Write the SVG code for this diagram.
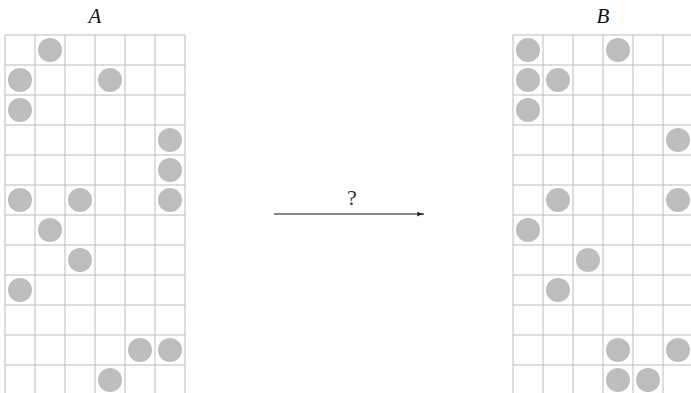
<svg xmlns="http://www.w3.org/2000/svg" width="691" height="393" viewBox="0 0 691 393">
<defs>
<style>
.g{stroke:#bcbcbc;stroke-width:1;fill:none}
.c{fill:#bdbdbd}
.lbl{font-family:"Liberation Serif","DejaVu Serif",serif;font-style:italic;font-size:21px;fill:#111;text-anchor:middle}
.q{font-family:"Liberation Serif","DejaVu Serif",serif;font-size:22px;fill:#333;text-anchor:middle}
.ar{stroke:#111;stroke-width:1.1;fill:none}
</style>
<marker id="ah" markerWidth="8" markerHeight="6" refX="7" refY="3" orient="auto" markerUnits="userSpaceOnUse">
<path d="M0,0.5 Q3,2.5 7,3 Q3,3.5 0,5.5 Q1.5,3 0,0.5Z" fill="#111"/>
</marker>
</defs>
<rect width="691" height="393" fill="#fff"/>
<g id="gridA">
<path class="g" d="M5,35V393M35,35V393M65,35V393M95,35V393M125,35V393M155,35V393M185,35V393M5,35H185M5,65H185M5,95H185M5,125H185M5,155H185M5,185H185M5,215H185M5,245H185M5,275H185M5,305H185M5,335H185M5,365H185"/>
<circle class="c" cx="50" cy="50" r="12"/>
<circle class="c" cx="20" cy="80" r="12"/><circle class="c" cx="110" cy="80" r="12"/>
<circle class="c" cx="20" cy="110" r="12"/>
<circle class="c" cx="170" cy="140" r="12"/>
<circle class="c" cx="170" cy="170" r="12"/>
<circle class="c" cx="20" cy="200" r="12"/><circle class="c" cx="80" cy="200" r="12"/><circle class="c" cx="170" cy="200" r="12"/>
<circle class="c" cx="50" cy="230" r="12"/>
<circle class="c" cx="80" cy="260" r="12"/>
<circle class="c" cx="20" cy="290" r="12"/>
<circle class="c" cx="140" cy="350" r="12"/><circle class="c" cx="170" cy="350" r="12"/>
<circle class="c" cx="110" cy="380" r="12"/>
</g>
<g id="gridB">
<path class="g" d="M513,35V393M543,35V393M573,35V393M603,35V393M633,35V393M663,35V393M513,35H693M513,65H693M513,95H693M513,125H693M513,155H693M513,185H693M513,215H693M513,245H693M513,275H693M513,305H693M513,335H693M513,365H693"/>
<circle class="c" cx="528" cy="50" r="12"/><circle class="c" cx="618" cy="50" r="12"/>
<circle class="c" cx="528" cy="80" r="12"/><circle class="c" cx="558" cy="80" r="12"/>
<circle class="c" cx="528" cy="110" r="12"/>
<circle class="c" cx="678" cy="140" r="12"/>
<circle class="c" cx="558" cy="200" r="12"/><circle class="c" cx="678" cy="200" r="12"/>
<circle class="c" cx="528" cy="230" r="12"/>
<circle class="c" cx="588" cy="260" r="12"/>
<circle class="c" cx="558" cy="290" r="12"/>
<circle class="c" cx="618" cy="350" r="12"/><circle class="c" cx="678" cy="350" r="12"/>
<circle class="c" cx="618" cy="380" r="12"/><circle class="c" cx="648" cy="380" r="12"/>
</g>
<g id="labelA"><text class="lbl" x="95" y="23">A</text></g>
<g id="labelB"><text class="lbl" x="603" y="23">B</text></g>
<g id="connectors">
<line class="ar" x1="274" y1="214" x2="424" y2="214" marker-end="url(#ah)"/>
<text class="q" x="352" y="205">?</text>
</g>
</svg>
